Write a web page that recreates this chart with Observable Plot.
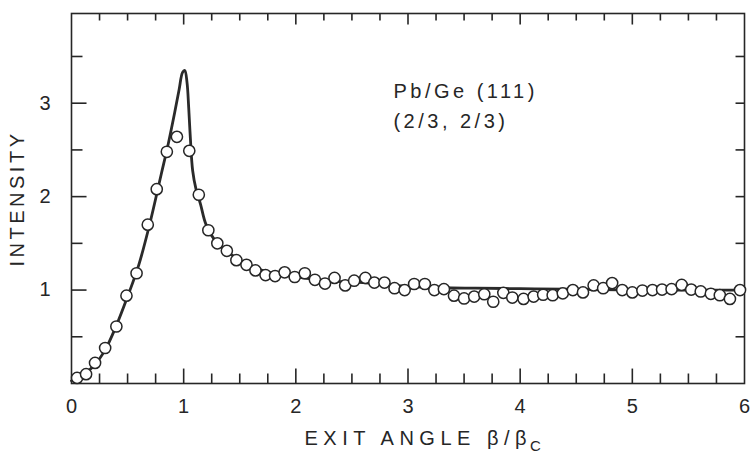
<!DOCTYPE html>
<html>
<head>
<meta charset="utf-8">
<script src="https://cdn.jsdelivr.net/npm/d3@7"></script>
<script src="https://cdn.jsdelivr.net/npm/@observablehq/plot@0.6"></script>
<style>
  body { margin: 0; background: #fff; }
  /* spaced-out lettering for the titles; the x-axis title is the last mark */
  g[aria-label="text"] text { letter-spacing: 3.5px; }
  svg > g:last-of-type text { letter-spacing: 5.5px; }
</style>
</head>
<body>
<div id="chart"></div>
<script>
// Measured intensity vs. normalized exit angle (open circles)
const exitAngle = [
  0.05, 0.13, 0.21, 0.30, 0.40, 0.49, 0.58, 0.68, 0.76, 0.85,
  0.94, 1.05, 1.135, 1.22, 1.30, 1.385, 1.47, 1.56, 1.64, 1.73,
  1.815, 1.90, 1.99, 2.08, 2.17, 2.26, 2.345, 2.44, 2.52, 2.62,
  2.70, 2.79, 2.88, 2.97, 3.055, 3.15, 3.235, 3.32, 3.41, 3.50,
  3.59, 3.68, 3.76, 3.85, 3.93, 4.03, 4.12, 4.205, 4.29, 4.38,
  4.47, 4.56, 4.655, 4.74, 4.82, 4.91, 5.00, 5.09, 5.18, 5.265,
  5.35, 5.44, 5.525, 5.61, 5.70, 5.78, 5.87, 5.96
];
const intensity = [
  0.06, 0.10, 0.22, 0.38, 0.61, 0.94, 1.18, 1.70, 2.08, 2.48,
  2.64, 2.49, 2.02, 1.64, 1.50, 1.42, 1.32, 1.27, 1.21, 1.16,
  1.15, 1.19, 1.14, 1.18, 1.11, 1.07, 1.13, 1.05, 1.10, 1.13,
  1.08, 1.08, 1.02, 1.00, 1.065, 1.065, 1.00, 1.01, 0.94, 0.91,
  0.93, 0.955, 0.875, 0.97, 0.92, 0.905, 0.93, 0.95, 0.945, 0.965,
  1.00, 0.975, 1.05, 1.02, 1.075, 1.00, 0.975, 0.995, 1.00, 1.005,
  1.01, 1.055, 1.005, 0.985, 0.96, 0.945, 0.905, 1.00
];

// Calculated curve (solid line)
const fitAngle = [
  0, 0.1, 0.2, 0.3, 0.4, 0.5, 0.6, 0.7, 0.8, 0.86,
  0.92, 0.96, 0.99, 1.01, 1.03, 1.045, 1.06, 1.08, 1.11, 1.15,
  1.2, 1.3, 1.4, 1.5, 1.6, 1.7, 1.8, 2.0, 2.2, 2.4,
  2.6, 2.8, 3.0, 3.3, 3.6, 4.0, 4.4, 5.0, 5.5, 6.0
];
const fitIntensity = [
  0.03, 0.09, 0.19, 0.36, 0.62, 0.93, 1.27, 1.72, 2.24, 2.55,
  2.9, 3.15, 3.33, 3.35, 3.22, 2.95, 2.62, 2.28, 2.08, 1.92,
  1.70, 1.50, 1.40, 1.32, 1.26, 1.21, 1.18, 1.14, 1.11, 1.09,
  1.08, 1.06, 1.04, 1.025, 1.02, 1.015, 1.01, 1.0, 1.0, 1.0
];

// Axis tick labels and tick positions
const xTickLabels = [0, 1, 2, 3, 4, 5, 6];
const yTickLabels = [1, 2, 3];
const xMajorTicks = [1, 2, 3, 4, 5];
const xMinorTicks = [0.25, 0.5, 0.75, 1.25, 1.5, 1.75, 2.25, 2.5, 2.75, 3.25, 3.5, 3.75,
                     4.25, 4.5, 4.75, 5.25, 5.5, 5.75];
const yMajorTicks = [1, 2, 3];
const yMinorTicks = [0.5, 1.5, 2.5, 3.5];

const annotation = ["Pb/Ge (111)", "(2/3, 2/3)"];
const xLabel = "EXIT ANGLE β/β";
const xLabelSub = "C";
const yLabel = "INTENSITY";

const measured = exitAngle.map((x, i) => ({x, y: intensity[i]}));
const fit = fitAngle.map((x, i) => ({x, y: fitIntensity[i]}));

const ink = "#262626";
const xMax = 6;
const yTop = 3.96;

// inward tick segments; lengths are in data units of the perpendicular axis
const tickLen = {bottomMajor: 0.16, bottomMinor: 0.107, topMajor: 0.118, topMinor: 0.075,
                 leftMajor: 0.134, leftMinor: 0.098, right: 0.08};
const tickSegments = [
  ...xMajorTicks.map(v => ({x1: v, x2: v, y1: 0, y2: tickLen.bottomMajor})),
  ...xMinorTicks.map(v => ({x1: v, x2: v, y1: 0, y2: tickLen.bottomMinor})),
  ...xMajorTicks.map(v => ({x1: v, x2: v, y1: yTop, y2: yTop - tickLen.topMajor})),
  ...xMinorTicks.map(v => ({x1: v, x2: v, y1: yTop, y2: yTop - tickLen.topMinor})),
  ...yMajorTicks.map(v => ({x1: 0, x2: tickLen.leftMajor, y1: v, y2: v})),
  ...yMinorTicks.map(v => ({x1: 0, x2: tickLen.leftMinor, y1: v, y2: v})),
  ...yMajorTicks.concat(yMinorTicks).map(v => ({x1: xMax, x2: xMax - tickLen.right, y1: v, y2: v}))
];

const chart = Plot.plot({
  width: 750,
  height: 458,
  marginLeft: 71,
  marginRight: 6,
  marginTop: 13,
  marginBottom: 75,
  x: {domain: [0, xMax]},
  y: {domain: [0, yTop]},
  style: {fontFamily: "'Liberation Sans', Arial, sans-serif", fontSize: "20px", color: ink, background: "#fff"},
  marks: [
    Plot.frame({stroke: ink, strokeWidth: 1.6}),
    Plot.link(tickSegments, {x1: "x1", y1: "y1", x2: "x2", y2: "y2", stroke: ink, strokeWidth: 1.6}),
    Plot.axisX(xTickLabels, {tickSize: 0, tickPadding: 15, label: null, tickFormat: "d", fill: ink}),
    Plot.axisY(yTickLabels, {tickSize: 0, tickPadding: 21, label: null, tickFormat: "d", fill: ink}),
    Plot.line(fit, {x: "x", y: "y", curve: "catmull-rom", stroke: "#2a2a2a", strokeWidth: 2.8}),
    Plot.dot(measured, {x: "x", y: "y", r: 5.6, fill: "#fff", stroke: ink, strokeWidth: 1.5}),
    Plot.text(annotation, {x: 2.87, y: (d, i) => [3.12, 2.80][i], text: d => d, textAnchor: "start",
      fill: ink, fontSize: 20}),
    Plot.text([yLabel], {frameAnchor: "left", dx: -54, rotate: -90, text: d => d, textAnchor: "middle",
      fill: ink, fontSize: 20}),
    // subscript of the x-axis title
    Plot.text([xLabelSub], {frameAnchor: "bottom", dx: 122, dy: 67, text: d => d, textAnchor: "start",
      fill: ink, fontSize: 15}),
    // x-axis title (kept last)
    Plot.text([xLabel], {frameAnchor: "bottom", dx: 124, dy: 61, text: d => d, textAnchor: "end",
      fill: ink, fontSize: 20})
  ]
});

document.getElementById("chart").append(chart);
</script>
</body>
</html>
